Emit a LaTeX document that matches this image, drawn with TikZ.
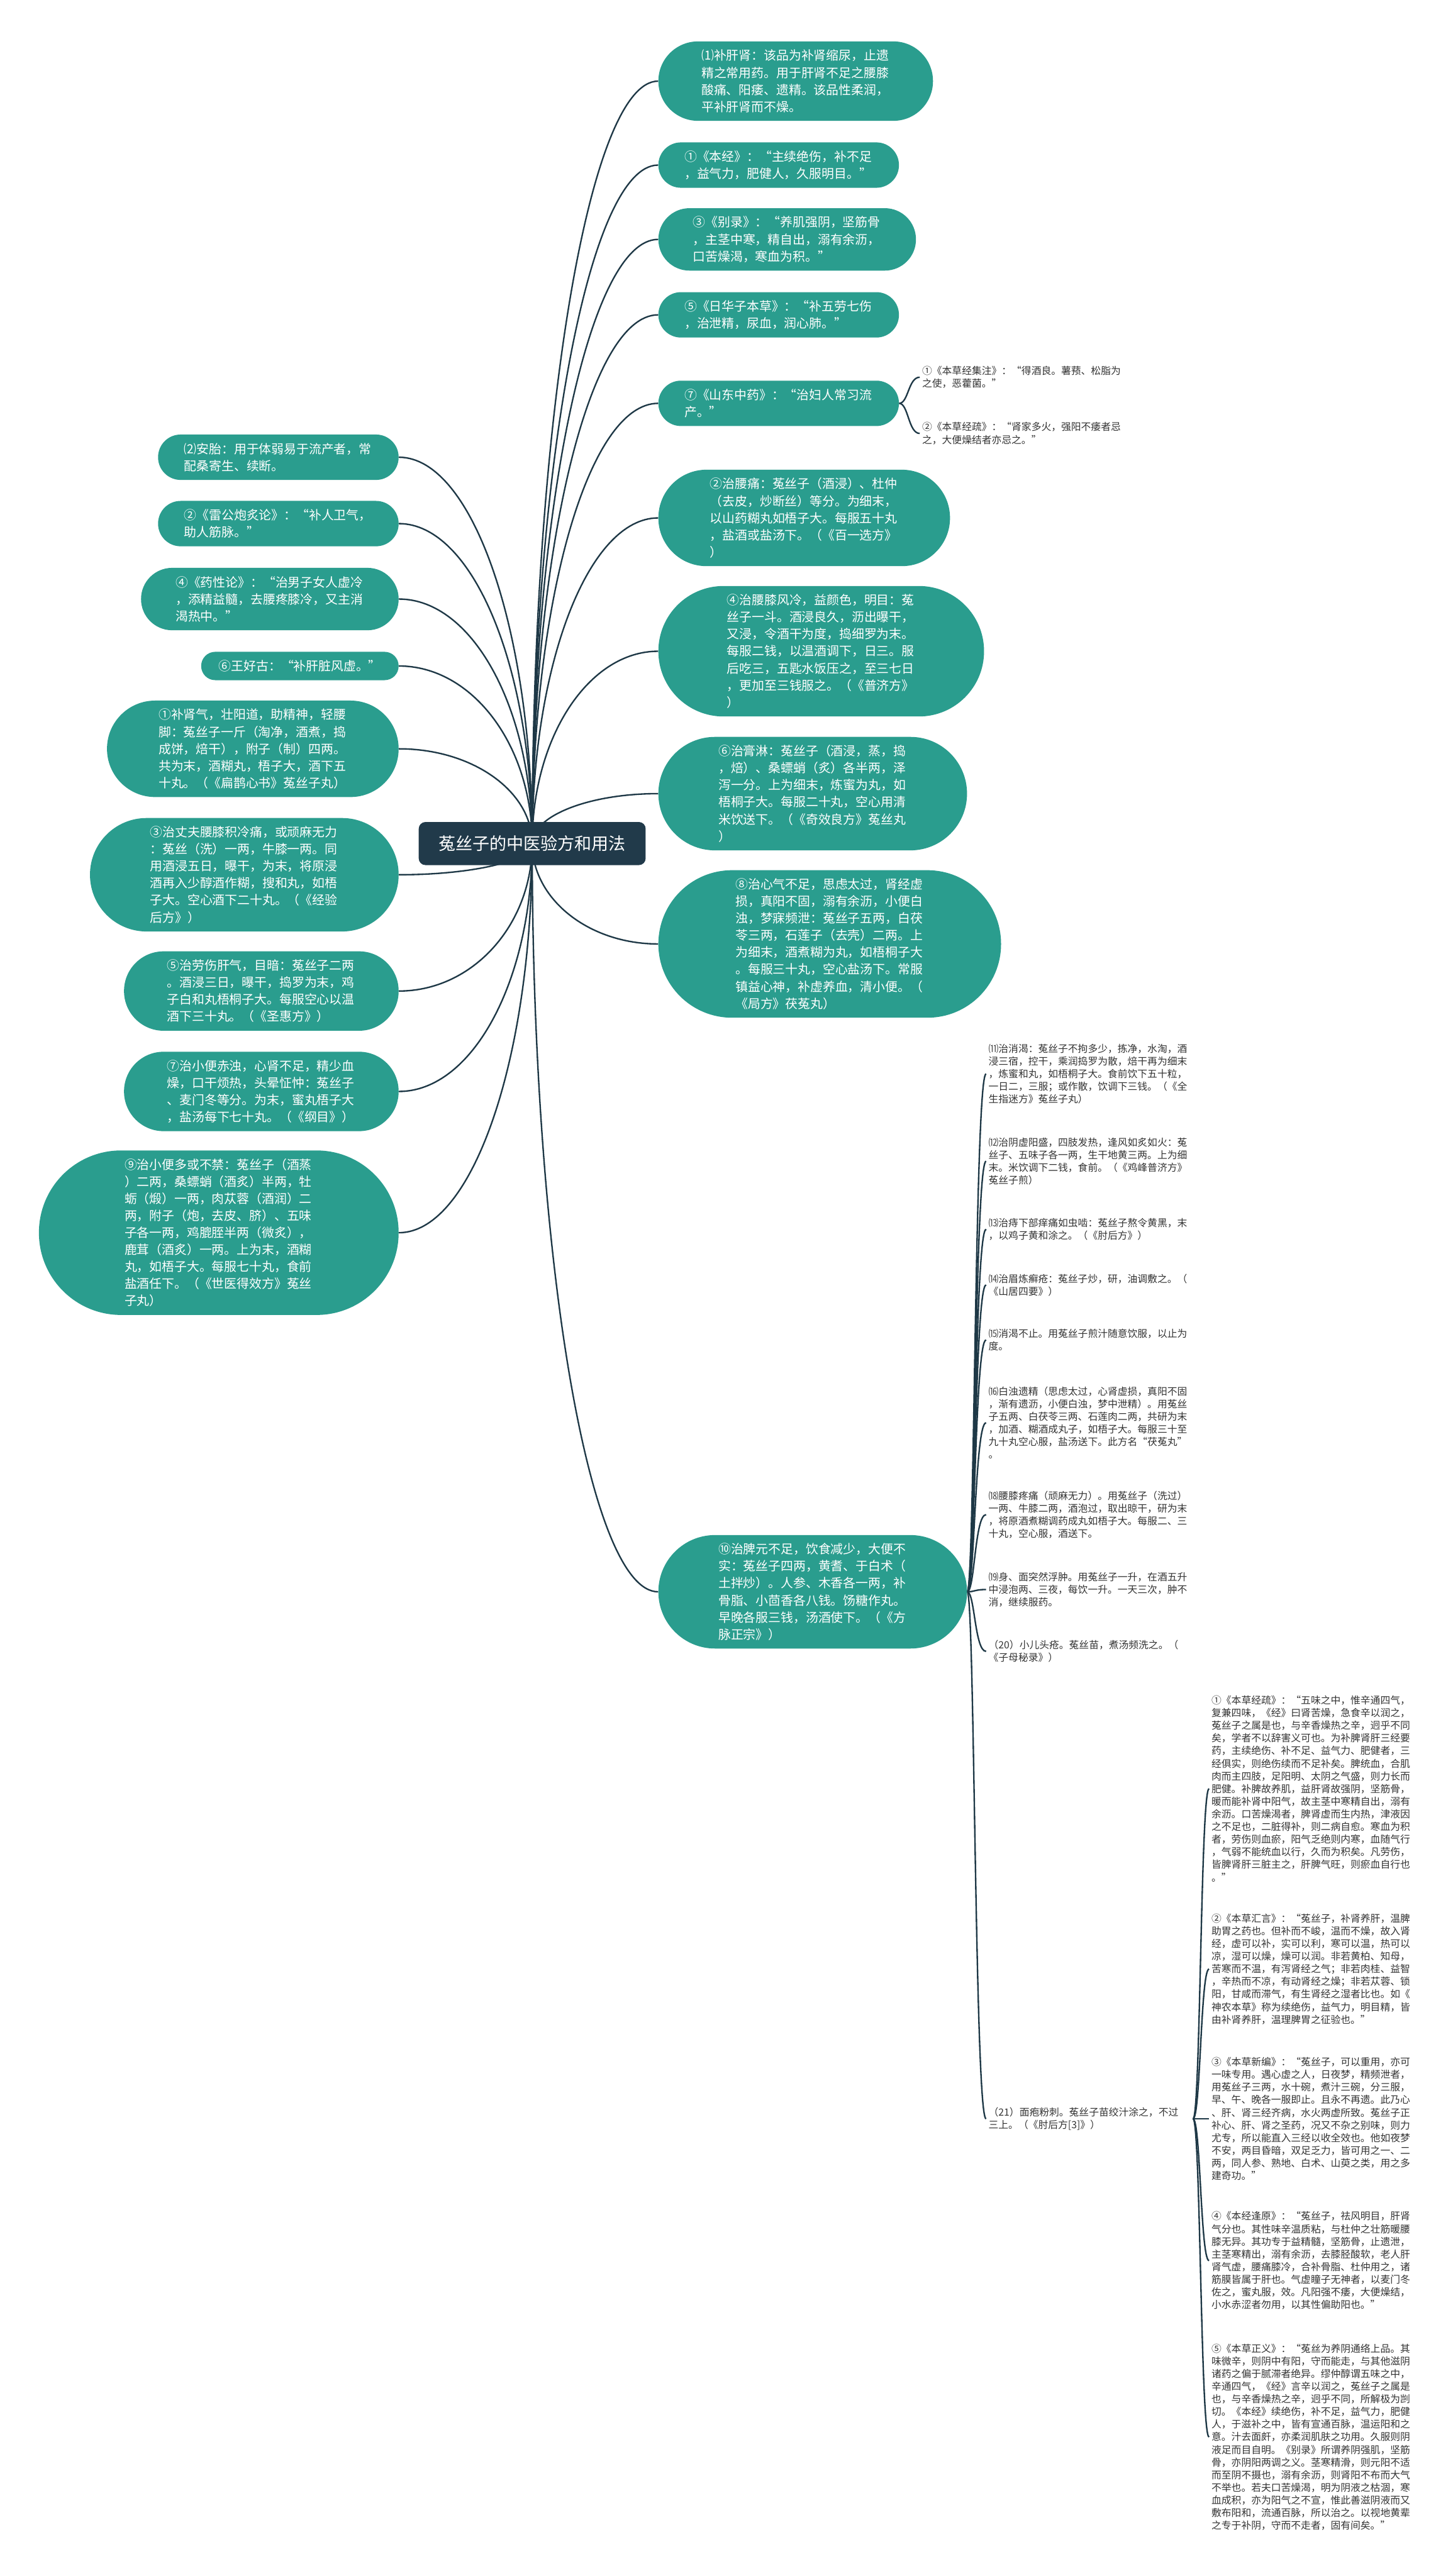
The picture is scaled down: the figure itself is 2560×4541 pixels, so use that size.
\documentclass[tikz,border=0pt]{standalone}
\usepackage{fontspec}
\setmainfont{Noto Sans CJK SC}
\usetikzlibrary{calc}
\pgfdeclarelayer{background}
\pgfsetlayers{background,main}

\definecolor{leaf-fill}{HTML}{2A9D8E}
\definecolor{root-fill}{HTML}{213A4A}
\definecolor{link-col}{HTML}{1E3846}
\definecolor{note-col}{HTML}{333333}
\tikzstyle{root-box}=[rounded corners=6pt, fill={root-fill}, text=white, font=\fontsize{15}{18}\selectfont, inner xsep=17.5pt, inner ysep=12pt]
\tikzset{leaf/.style={fill={leaf-fill}, text=white, font=\fontsize{11}{15}\selectfont, align=left, inner ysep=6pt,
  minimum height=#1*15pt+10pt, rounded corners=#1*7.5pt+4.9pt, inner xsep=#1*7.5pt+8pt}}
\tikzset{leaf-wide/.style={leaf=#1, text width=166pt}}
\tikzstyle{note}=[font=\fontsize{8.75}{11.15}\selectfont, text={note-col}, align=left, inner xsep=2pt, inner ysep=2pt, text width=178pt]
\tikzstyle{link}=[draw={link-col}, line width=1.3pt]

\begin{document}
\begin{tikzpicture}[x=0.5pt, y=-0.5pt]
      \useasboundingbox (0,0) rectangle (2560,4541);

      \node (root) at (938, 1487) [root-box] {菟丝子的中医验方和用法};

      \node (right-1) at (1160, 143) [leaf-wide=4, anchor=west] {⑴补肝肾：该品为补肾缩尿，止遗\\精之常用药。用于肝肾不足之腰膝\\酸痛、阳痿、遗精。该品性柔润，\\平补肝肾而不燥。};
      \node (right-2) at (1160, 291) [leaf-wide=2, anchor=west] {①《本经》：“主续绝伤，补不足\\，益气力，肥健人，久服明目。”};
      \node (right-3) at (1160, 422) [leaf-wide=3, anchor=west] {③《别录》：“养肌强阴，坚筋骨\\，主茎中寒，精自出，溺有余沥，\\口苦燥渴，寒血为积。”};
      \node (right-4) at (1160, 555) [leaf-wide=2, anchor=west] {⑤《日华子本草》：“补五劳七伤\\，治泄精，尿血，润心肺。”};
      \node (right-5) at (1160, 711) [leaf-wide=2, anchor=west] {⑦《山东中药》：“治妇人常习流\\产。”};
      \node (right-6) at (1160, 913) [leaf-wide=5, anchor=west] {②治腰痛：菟丝子（酒浸）、杜仲\\（去皮，炒断丝）等分。为细末，\\以山药糊丸如梧子大。每服五十丸\\，盐酒或盐汤下。（《百一选方》\\）};
      \node (right-7) at (1160, 1148) [leaf-wide=7, anchor=west] {④治腰膝风冷，益颜色，明目：菟\\丝子一斗。酒浸良久，沥出曝干，\\又浸，令酒干为度，捣细罗为末。\\每服二钱，以温酒调下，日三。服\\后吃三，五匙水饭压之，至三七日\\，更加至三钱服之。（《普济方》\\）};
      \node (right-8) at (1160, 1399) [leaf-wide=6, anchor=west] {⑥治膏淋：菟丝子（酒浸，蒸，捣\\，焙）、桑螵蛸（炙）各半两，泽\\泻一分。上为细末，炼蜜为丸，如\\梧桐子大。每服二十丸，空心用清\\米饮送下。（《奇效良方》菟丝丸\\）};
      \node (right-9) at (1160, 1664) [leaf-wide=8, anchor=west] {⑧治心气不足，思虑太过，肾经虚\\损，真阳不固，溺有余沥，小便白\\浊，梦寐频泄：菟丝子五两，白茯\\苓三两，石莲子（去壳）二两。上\\为细末，酒煮糊为丸，如梧桐子大\\。每服三十丸，空心盐汤下。常服\\镇益心神，补虚养血，清小便。（\\《局方》茯菟丸）};
      \node (right-10) at (1160, 2806) [leaf-wide=6, anchor=west] {⑩治脾元不足，饮食减少，大便不\\实：菟丝子四两，黄耆、于白术（\\土拌炒）。人参、木香各一两，补\\骨脂、小茴香各八钱。饧糖作丸。\\早晚各服三钱，汤酒使下。（《方\\脉正宗》）};

      \node (left-1) at (703, 806) [leaf-wide=2, anchor=east] {⑵安胎：用于体弱易于流产者，常\\配桑寄生、续断。};
      \node (left-2) at (703, 923) [leaf-wide=2, anchor=east] {②《雷公炮炙论》：“补人卫气，\\助人筋脉。”};
      \node (left-3) at (703, 1056) [leaf-wide=3, anchor=east] {④《药性论》：“治男子女人虚冷\\，添精益髓，去腰疼膝冷，又主消\\渴热中。”};
      \node (left-4) at (703, 1174) [leaf=1, anchor=east] {⑥王好古：“补肝脏风虚。”};
      \node (left-5) at (703, 1320) [leaf-wide=5, anchor=east] {①补肾气，壮阳道，助精神，轻腰\\脚：菟丝子一斤（淘净，酒煮，捣\\成饼，焙干），附子（制）四两。\\共为末，酒糊丸，梧子大，酒下五\\十丸。（《扁鹊心书》菟丝子丸）};
      \node (left-6) at (703, 1542) [leaf-wide=6, anchor=east] {③治丈夫腰膝积冷痛，或顽麻无力\\：菟丝（洗）一两，牛膝一两。同\\用酒浸五日，曝干，为末，将原浸\\酒再入少醇酒作糊，搜和丸，如梧\\子大。空心酒下二十丸。（《经验\\后方》）};
      \node (left-7) at (703, 1747) [leaf-wide=4, anchor=east] {⑤治劳伤肝气，目暗：菟丝子二两\\。酒浸三日，曝干，捣罗为末，鸡\\子白和丸梧桐子大。每服空心以温\\酒下三十丸。（《圣惠方》）};
      \node (left-8) at (703, 1924) [leaf-wide=4, anchor=east] {⑦治小便赤浊，心肾不足，精少血\\燥，口干烦热，头晕怔忡：菟丝子\\、麦门冬等分。为末，蜜丸梧子大\\，盐汤每下七十丸。（《纲目》）};
      \node (left-9) at (703, 2173) [leaf-wide=9, anchor=east] {⑨治小便多或不禁：菟丝子（酒蒸\\）二两，桑螵蛸（酒炙）半两，牡\\蛎（煅）一两，肉苁蓉（酒润）二\\两，附子（炮，去皮、脐）、五味\\子各一两，鸡膍胵半两（微炙），\\鹿茸（酒炙）一两。上为末，酒糊\\丸，如梧子大。每服七十丸，食前\\盐酒任下。（《世医得效方》菟丝\\子丸）};

      \node (sub-1) at (1621, 665) [note, anchor=west] {①《本草经集注》：“得酒良。薯蓣、松脂为\\之使，恶藿菌。”};
      \node (sub-2) at (1621, 764) [note, anchor=west] {②《本草经疏》：“肾家多火，强阳不痿者忌\\之，大便燥结者亦忌之。”};

      \node (mid-11) at (1738, 1893) [note, anchor=west] {⑾治消渴：菟丝子不拘多少，拣净，水淘，酒\\浸三宿，控干，乘润捣罗为散，焙干再为细末\\，炼蜜和丸，如梧桐子大。食前饮下五十粒，\\一日二，三服；或作散，饮调下三钱。（《全\\生指迷方》菟丝子丸）};
      \node (mid-12) at (1738, 2047) [note, anchor=west] {⑿治阴虚阳盛，四肢发热，逢风如炙如火：菟\\丝子、五味子各一两，生干地黄三两。上为细\\末。米饮调下二钱，食前。（《鸡峰普济方》\\菟丝子煎）};
      \node (mid-13) at (1738, 2167) [note, anchor=west] {⒀治痔下部痒痛如虫啮：菟丝子熬令黄黑，末\\，以鸡子黄和涂之。（《肘后方》）};
      \node (mid-14) at (1738, 2265) [note, anchor=west] {⒁治眉炼癣疮：菟丝子炒，研，油调敷之。（\\《山居四要》）};
      \node (mid-15) at (1738, 2362) [note, anchor=west] {⒂消渴不止。用菟丝子煎汁随意饮服，以止为\\度。};
      \node (mid-16) at (1738, 2508) [note, anchor=west] {⒃白浊遗精（思虑太过，心肾虚损，真阳不固\\，渐有遗沥，小便白浊，梦中泄精）。用菟丝\\子五两、白茯苓三两、石莲肉二两，共研为末\\，加酒、糊酒成丸子，如梧子大。每服三十至\\九十丸空心服，盐汤送下。此方名“茯菟丸”\\。};
      \node (mid-18) at (1738, 2670) [note, anchor=west] {⒅腰膝疼痛（顽麻无力）。用菟丝子（洗过）\\一两、牛膝二两，酒泡过，取出晾干，研为末\\，将原酒煮糊调药成丸如梧子大。每服二、三\\十丸，空心服，酒送下。};
      \node (mid-19) at (1738, 2802) [note, anchor=west] {⒆身、面突然浮肿。用菟丝子一升，在酒五升\\中浸泡两、三夜，每饮一升。一天三次，肿不\\消，继续服药。};
      \node (mid-20) at (1738, 2911) [note, anchor=west] {（20）小儿头疮。菟丝苗，煮汤频洗之。（\\《子母秘录》）};
      \node (mid-21) at (1738, 3735) [note, anchor=west] {（21）面疱粉刺。菟丝子苗绞汁涂之，不过\\三上。（《肘后方[3]》）};

      \node (far-1) at (2131, 3153) [note, anchor=west] {①《本草经疏》：“五味之中，惟辛通四气，\\复兼四味，《经》曰肾苦燥，急食辛以润之，\\菟丝子之属是也，与辛香燥热之辛，迥乎不同\\矣，学者不以辞害义可也。为补脾肾肝三经要\\药，主续绝伤、补不足、益气力、肥健者，三\\经俱实，则绝伤续而不足补矣。脾统血，合肌\\肉而主四肢，足阳明、太阴之气盛，则力长而\\肥健。补脾故养肌，益肝肾故强阴，坚筋骨，\\暖而能补肾中阳气，故主茎中寒精自出，溺有\\余沥。口苦燥渴者，脾肾虚而生内热，津液因\\之不足也，二脏得补，则二病自愈。寒血为积\\者，劳伤则血瘀，阳气乏绝则内寒，血随气行\\，气弱不能统血以行，久而为积矣。凡劳伤，\\皆脾肾肝三脏主之，肝脾气旺，则瘀血自行也\\。”};
      \node (far-2) at (2131, 3471) [note, anchor=west] {②《本草汇言》：“菟丝子，补肾养肝，温脾\\助胃之药也。但补而不峻，温而不燥，故入肾\\经，虚可以补，实可以利，寒可以温，热可以\\凉，湿可以燥，燥可以润。非若黄柏、知母，\\苦寒而不温，有泻肾经之气；非若肉桂、益智\\，辛热而不凉，有动肾经之燥；非若苁蓉、锁\\阳，甘咸而滞气，有生肾经之湿者比也。如《\\神农本草》称为续绝伤，益气力，明目精，皆\\由补肾养肝，温理脾胃之征验也。”};
      \node (far-3) at (2131, 3735) [note, anchor=west] {③《本草新编》：“菟丝子，可以重用，亦可\\一味专用。遇心虚之人，日夜梦，精频泄者，\\用菟丝子三两，水十碗，煮汁三碗，分三服，\\早、午、晚各一服即止。且永不再遗。此乃心\\、肝、肾三经齐病，水火两虚所致。菟丝子正\\补心、肝、肾之圣药，况又不杂之别味，则力\\尤专，所以能直入三经以收全效也。他如夜梦\\不安，两目昏暗，双足乏力，皆可用之一、二\\两，同人参、熟地、白术、山萸之类，用之多\\建奇功。”};
      \node (far-4) at (2131, 3985) [note, anchor=west] {④《本经逢原》：“菟丝子，祛风明目，肝肾\\气分也。其性味辛温质粘，与杜仲之壮筋暖腰\\膝无异。其功专于益精髓，坚筋骨，止遗泄，\\主茎寒精出，溺有余沥，去膝胫酸软，老人肝\\肾气虚，腰痛膝冷，合补骨脂、杜仲用之，诸\\筋膜皆属于肝也。气虚瞳子无神者，以麦门冬\\佐之，蜜丸服，效。凡阳强不痿，大便燥结，\\小水赤涩者勿用，以其性偏助阳也。”};
      \node (far-5) at (2131, 4296) [note, anchor=west] {⑤《本草正义》：“菟丝为养阴通络上品。其\\味微辛，则阴中有阳，守而能走，与其他滋阴\\诸药之偏于腻滞者绝异。缪仲醇谓五味之中，\\辛通四气，《经》言辛以润之，菟丝子之属是\\也，与辛香燥热之辛，迥乎不同，所解极为剀\\切。《本经》续绝伤，补不足，益气力，肥健\\人，于滋补之中，皆有宣通百脉，温运阳和之\\意。汁去面皯，亦柔润肌肤之功用。久服则阴\\液足而目自明。《别录》所谓养阴强肌，坚筋\\骨，亦阴阳两调之义。茎寒精滑，则元阳不适\\而至阴不摄也，溺有余沥，则肾阳不布而大气\\不举也。若夫口苦燥渴，明为阴液之枯涸，寒\\血成积，亦为阳气之不宣，惟此善滋阴液而又\\敷布阳和，流通百脉，所以治之。以视地黄辈\\之专于补阴，守而不走者，固有间矣。”};

      \coordinate (hub-s) at (1601, 0);
      \coordinate (hub-m) at (1718, 0);
      \coordinate (hub-f) at (2116, 0);

      \begin{pgfonlayer}{background}
      \fill[white] (0,0) rectangle (2560,4541);
      \foreach \n in {1,...,10}
        \draw[link] (root.center) .. controls ($(root.center)!0.5523!(root.center |- right-\n.west)$) and ($(right-\n.west)!0.5523!(root.center |- right-\n.west)$) .. (right-\n.west);
      \foreach \n in {1,...,9}
        \draw[link] (root.center) .. controls ($(root.center)!0.5523!(root.center |- left-\n.east)$) and ($(left-\n.east)!0.5523!(root.center |- left-\n.east)$) .. (left-\n.east);
      \foreach \n in {1,2}
        \draw[link] (right-5.east) .. controls (hub-s |- right-5.east) and (hub-s |- sub-\n.west) .. (sub-\n.west);
      \foreach \n in {11,12,13,14,15,16,18,19,20,21}
        \draw[link] (right-10.east) .. controls (hub-m |- right-10.east) and (hub-m |- mid-\n.west) .. (mid-\n.west);
      \foreach \n in {1,...,5}
        \draw[link] (mid-21.east) .. controls (hub-f |- mid-21.east) and (hub-f |- far-\n.west) .. (far-\n.west);
      \end{pgfonlayer}
\end{tikzpicture}
\end{document}
